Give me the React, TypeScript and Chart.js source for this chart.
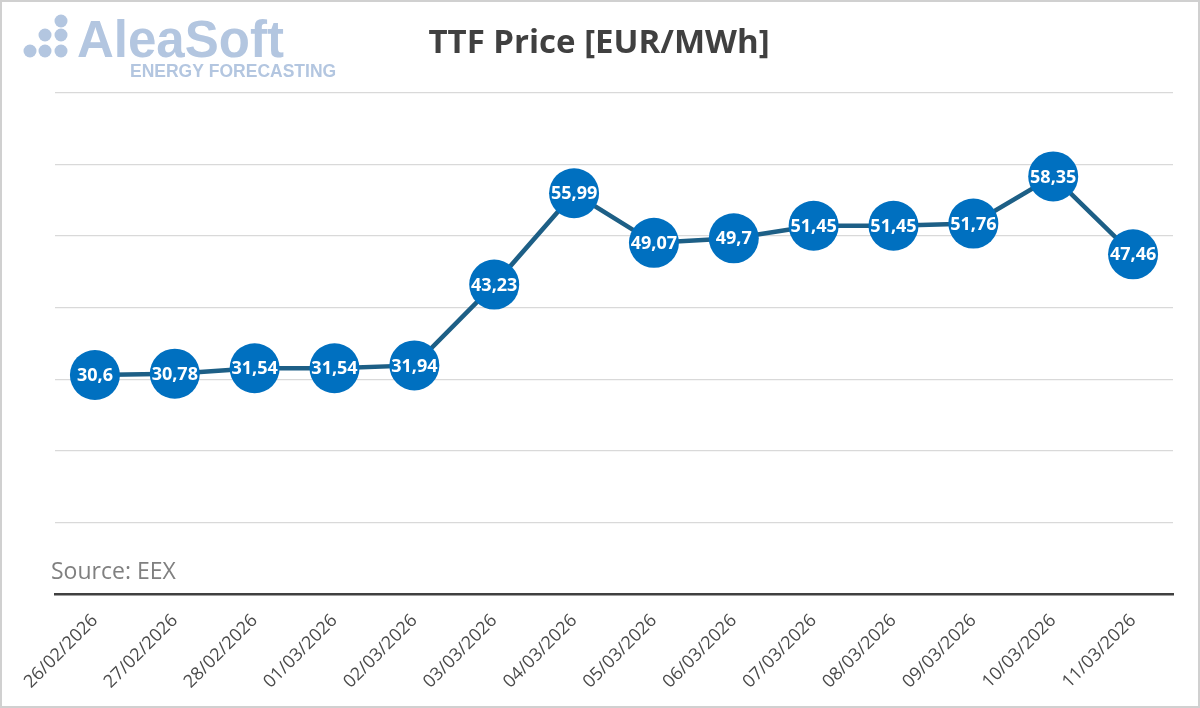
import React, { useEffect, useRef } from "react";
import { Chart, registerables } from "chart.js";

Chart.register(...registerables);

const categories = [
  "26/02/2026", "27/02/2026", "28/02/2026", "01/03/2026", "02/03/2026",
  "03/03/2026", "04/03/2026", "05/03/2026", "06/03/2026", "07/03/2026",
  "08/03/2026", "09/03/2026", "10/03/2026", "11/03/2026",
];
const ttfPrice = [30.6, 30.78, 31.54, 31.54, 31.94, 43.23, 55.99, 49.07, 49.7, 51.45, 51.45, 51.76, 58.35, 47.46];
const yMin = 0;
const yMax = 70;
const yStep = 10;
const titleText = "TTF Price [EUR/MWh]";
const sourceText = "Source: EEX";

const decorPlugin = {
  id: "decor",
  beforeDraw(chart: any) {
    const ctx = chart.ctx;
    ctx.save();
    ctx.fillStyle = "#ffffff";
    ctx.fillRect(0, 0, chart.width, chart.height);
    ctx.restore();
  },
  afterDraw(chart: any) {
    const ctx = chart.ctx;
    ctx.save();
    // border
    ctx.strokeStyle = "#d0d0d0";
    ctx.lineWidth = 2;
    ctx.strokeRect(1, 1, chart.width - 2, chart.height - 2);
    // logo dots
    ctx.fillStyle = "#b3c6e0";
    const dots = [
      [61, 21], [45, 35], [61, 35], [30, 51], [45, 51], [61, 51],
    ];
    for (const [x, y] of dots) {
      ctx.beginPath();
      ctx.arc(x, y, 6.5, 0, Math.PI * 2);
      ctx.fill();
    }
    ctx.font = "bold 51px 'Liberation Sans', Arial, sans-serif";
    ctx.textBaseline = "alphabetic";
    ctx.textAlign = "left";
    ctx.fillText("AleaSoft", 77, 57);
    ctx.font = "bold 17.5px 'Liberation Sans', Arial, sans-serif";
    ctx.fillText("ENERGY FORECASTING", 130, 77);
    // title
    ctx.fillStyle = "#404040";
    ctx.font = "bold 33px 'Open Sans', sans-serif";
    ctx.textAlign = "center";
    ctx.fillText(titleText, 599, 53);
    // source
    ctx.fillStyle = "#808080";
    ctx.font = "23px 'Open Sans', sans-serif";
    ctx.textAlign = "left";
    ctx.fillText(sourceText, 51, 579);
    ctx.restore();
  },
  afterDatasetsDraw(chart: any) {
    const ctx = chart.ctx;
    const meta = chart.getDatasetMeta(0);
    ctx.save();
    ctx.fillStyle = "#ffffff";
    ctx.font = "bold 18px 'Open Sans', sans-serif";
    ctx.textAlign = "center";
    ctx.textBaseline = "middle";
    meta.data.forEach((pt: any, i: number) => {
      const v = chart.data.datasets[0].data[i];
      ctx.fillText(String(v).replace(".", ","), pt.x, pt.y + 1);
    });
    ctx.restore();
  },
};

export default function App() {
  const ref = useRef<HTMLCanvasElement | null>(null);
  useEffect(() => {
    document.body.style.margin = "0";
    const chart = new Chart(ref.current as HTMLCanvasElement, {
      type: "line",
      data: {
        labels: categories,
        datasets: [
          {
            data: ttfPrice,
            borderColor: "#1d5f86",
            borderWidth: 4.5,
            pointRadius: 25,
            pointHoverRadius: 25,
            pointBackgroundColor: "#0070c0",
            pointBorderWidth: 0,
            pointBorderColor: "#0070c0",
            tension: 0,
            fill: false,
          },
        ],
      },
      options: {
        animation: false,
        responsive: false,
        devicePixelRatio: 1,
        layout: { padding: { left: 55, right: 27, top: 93, bottom: 0 } },
        plugins: {
          legend: { display: false },
          tooltip: { enabled: false },
          title: { display: false },
        },
        scales: {
          x: {
            offset: true,
            grid: { display: false, drawTicks: false },
            border: { display: true, color: "#404040", width: 2.5 },
            ticks: {
              color: "#4a4a4a",
              font: { family: "'Open Sans', sans-serif", size: 18 },
              maxRotation: 45,
              minRotation: 45,
              padding: 16,
              autoSkip: false,
            },
            afterFit: (scale: any) => {
              scale.height = 114;
            },
          },
          y: {
            min: yMin,
            max: yMax,
            ticks: { display: false, stepSize: yStep },
            grid: { color: "#d9d9d9", lineWidth: 1.3, drawTicks: false },
            border: { display: false },
            afterFit: (scale: any) => {
              scale.width = 0;
            },
          },
        },
      },
      plugins: [decorPlugin],
    });
    return () => chart.destroy();
  }, []);
  return (
    <div style={{ width: 1200, height: 708 }}>
      <canvas ref={ref} width={1200} height={708} style={{ display: "block" }} />
    </div>
  );
}
